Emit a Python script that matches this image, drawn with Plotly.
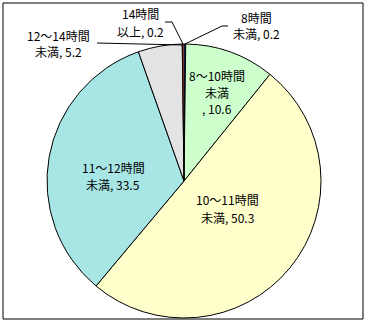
import plotly.graph_objects as go

W, H = 367, 322

categories = ["8時間未満", "8～10時間未満", "10～11時間未満", "11～12時間未満", "12～14時間未満", "14時間以上"]
values = [0.2, 10.6, 50.3, 33.5, 5.2, 0.2]
# label text split into display lines; the value is appended to the last line
label_lines = [
    ["8時間", "未満"],
    ["8～10時間", "未満", ""],
    ["10～11時間", "未満"],
    ["11～12時間", "未満"],
    ["12～14時間", "未満"],
    ["14時間", "以上"],
]
colors = ["#3366FF", "#CCFFCC", "#FFFFCC", "#A8E6E6", "#E3E3E3", "#FF6666"]

# label anchor (x centre, y of first line) in pixels from top-left
label_pos = [(256, 17), (217, 75), (228, 200), (113, 167), (58, 35), (140, 14)]
line_step = 17

cx, cy, r = 184, 181, 137

def px(x):
    return x / W

def py(y):
    return 1 - y / H

fig = go.Figure(go.Pie(
    labels=categories,
    values=values,
    sort=False,
    direction="clockwise",
    rotation=0,
    marker=dict(colors=colors, line=dict(color="black", width=1)),
    textinfo="none",
    hoverinfo="label+value",
    showlegend=False,
    domain=dict(x=[px(cx - r), px(cx + r)], y=[py(cy + r), py(cy - r)]),
))

annotations = []
for lines, v, (x, y) in zip(label_lines, values, label_pos):
    for i, ln in enumerate(lines):
        txt = f"{ln}, {v}" if i == len(lines) - 1 else ln
        annotations.append(dict(
            x=px(x), y=py(y + i * line_step), xref="paper", yref="paper",
            text=txt, showarrow=False,
            font=dict(family="Noto Sans CJK JP", size=12, color="black"),
            align="center", xanchor="center", yanchor="middle",
        ))

shapes = [
    dict(type="rect", xref="paper", yref="paper",
         x0=px(3), x1=px(363), y0=py(319), y1=py(3),
         line=dict(color="black", width=1), fillcolor="rgba(0,0,0,0)"),
    # leader lines
    dict(type="line", xref="paper", yref="paper", x0=px(165), y0=py(22), x1=px(172), y1=py(22),
         line=dict(color="black", width=1)),
    dict(type="line", xref="paper", yref="paper", x0=px(172), y0=py(22), x1=px(183), y1=py(44),
         line=dict(color="black", width=1)),
    dict(type="line", xref="paper", yref="paper", x0=px(228), y0=py(26), x1=px(222), y1=py(26),
         line=dict(color="black", width=1)),
    dict(type="line", xref="paper", yref="paper", x0=px(222), y0=py(26), x1=px(185), y1=py(44),
         line=dict(color="black", width=1)),
    dict(type="line", xref="paper", yref="paper", x0=px(97), y0=py(43), x1=px(183), y1=py(45),
         line=dict(color="black", width=1)),
]

fig.update_layout(
    width=W, height=H,
    margin=dict(l=0, r=0, t=0, b=0),
    paper_bgcolor="white",
    plot_bgcolor="white",
    annotations=annotations,
    shapes=shapes,
)

fig.write_html("out.html")
